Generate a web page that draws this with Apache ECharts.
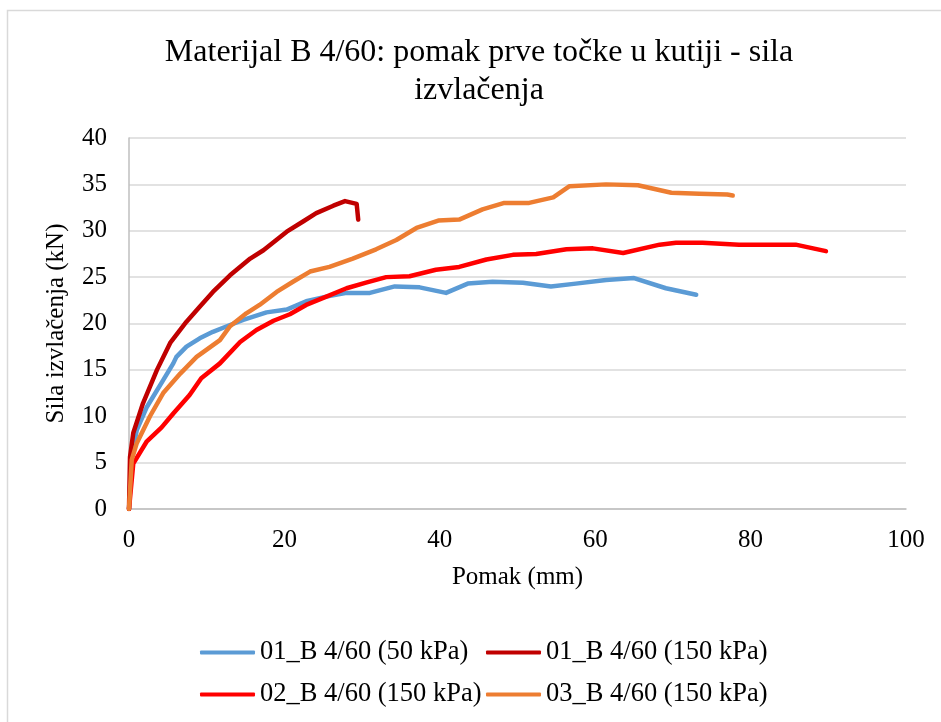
<!DOCTYPE html>
<html>
<head>
<meta charset="utf-8">
<script src="https://cdn.jsdelivr.net/npm/echarts@6/dist/echarts.min.js"></script>
<style>
  html, body { margin: 0; padding: 0; background: #fff; }
  #chart { width: 941px; height: 722px; }
</style>
</head>
<body>
<div id="chart"></div>
<script>
// Pull-out test, material B 4/60: displacement of the first point in the box vs. pull-out force
const seriesNames = [
  '01_B 4/60 (50 kPa)',
  '01_B 4/60 (150 kPa)',
  '02_B 4/60 (150 kPa)',
  '03_B 4/60 (150 kPa)'
];

// 01_B 4/60 (50 kPa)
const s1x = [0, 0.35, 1.0, 2.3, 4.4, 5.7, 6.1, 7.4, 9.1, 10.8, 12.6, 14.7, 17.7, 20.3, 22.8, 25.4, 28.0, 31.0, 34.2, 37.4, 40.8, 43.6, 46.8, 50.7, 54.3, 57.5, 61.4, 65.0, 69.1, 73.0];
const s1y = [0, 5.6, 8.5, 11.0, 13.9, 15.7, 16.4, 17.5, 18.4, 19.1, 19.7, 20.4, 21.2, 21.5, 22.4, 22.9, 23.3, 23.3, 24.0, 23.9, 23.3, 24.3, 24.5, 24.4, 24.0, 24.3, 24.7, 24.9, 23.8, 23.1];

// 01_B 4/60 (150 kPa)
const s2x = [0, 0.13, 0.55, 1.8, 3.6, 5.3, 7.4, 9.1, 10.8, 13.0, 15.6, 17.3, 20.3, 22.4, 24.1, 26.3, 27.8, 29.3, 29.5];
const s2y = [0, 5.6, 8.2, 11.4, 15.0, 17.9, 20.2, 21.8, 23.4, 25.2, 27.0, 27.9, 29.9, 31.0, 31.9, 32.7, 33.2, 32.9, 31.2];

// 02_B 4/60 (150 kPa)
const s3x = [0, 0.55, 2.3, 4.2, 5.7, 7.8, 9.3, 11.7, 14.3, 16.4, 18.6, 20.7, 22.8, 25.4, 28.0, 30.5, 33.1, 36.1, 39.5, 42.5, 46.0, 49.4, 52.4, 56.3, 59.7, 63.6, 68.3, 70.4, 73.8, 78.5, 85.8, 89.7];
const s3y = [0, 4.9, 7.3, 8.8, 10.3, 12.3, 14.1, 15.7, 18.0, 19.3, 20.3, 21.0, 22.0, 22.9, 23.8, 24.4, 25.0, 25.1, 25.8, 26.1, 26.9, 27.4, 27.5, 28.0, 28.1, 27.6, 28.5, 28.7, 28.7, 28.5, 28.5, 27.8];

// 03_B 4/60 (150 kPa)
const s4x = [0, 0.35, 1.0, 2.7, 4.4, 6.6, 8.7, 11.7, 13.0, 15.1, 16.8, 19.0, 21.1, 23.3, 25.8, 28.8, 31.8, 34.4, 37.0, 39.8, 42.5, 45.5, 48.3, 51.5, 54.6, 56.7, 61.4, 65.5, 69.8, 73.4, 77.0, 77.7];
const s4y = [0, 5.3, 7.1, 10.0, 12.5, 14.6, 16.4, 18.2, 19.7, 21.1, 22.0, 23.4, 24.5, 25.6, 26.1, 27.0, 28.0, 29.0, 30.3, 31.1, 31.2, 32.3, 33.0, 33.0, 33.6, 34.8, 35.0, 34.9, 34.1, 34.0, 33.9, 33.8];

const xs = [s1x, s2x, s3x, s4x];
const ys = [s1y, s2y, s3y, s4y];
const colors = ['#5B9BD5', '#C00000', '#FF0000', '#ED7D31'];

const FONT = '"Liberation Serif", "Times New Roman", serif';

function pairs(x, y) {
  return x.map((v, i) => [v, y[i]]);
}

const series = seriesNames.map((name, i) => ({
  name: name,
  type: 'line',
  data: pairs(xs[i], ys[i]),
  showSymbol: false,
  symbol: 'none',
  smooth: false,
  lineStyle: { color: colors[i], width: 4.5, cap: 'round', join: 'round' },
  itemStyle: { color: colors[i] },
  z: 2 + i
}));

// Legend laid out as a 2x2 block, one legend per entry
const legendPos = [
  { left: 195, top: 634 },
  { left: 481, top: 634 },
  { left: 195, top: 676 },
  { left: 481, top: 676 }
];
const legends = seriesNames.map((name, i) => ({
  data: [name],
  left: legendPos[i].left,
  top: legendPos[i].top,
  orient: 'horizontal',
  icon: 'roundRect',
  itemWidth: 55,
  itemHeight: 4,
  itemGap: 0,
  selectedMode: false,
  textStyle: { fontFamily: FONT, fontSize: 26.5, color: '#000' }
}));

const chart = echarts.init(document.getElementById('chart'), null, { renderer: 'canvas' });
chart.setOption({
  animation: false,
  backgroundColor: '#fff',
  title: {
    text: 'Materijal B 4/60: pomak prve točke u kutiji - sila\nizvlačenja',
    left: 474,
    top: 29,
    textAlign: 'center',
    textStyle: { fontFamily: FONT, fontSize: 32, fontWeight: 'normal', color: '#000', lineHeight: 38 }
  },
  graphic: [{
    type: 'rect',
    shape: { x: 7.5, y: 10.5, width: 960, height: 760 },
    style: { fill: 'none', stroke: '#d9d9d9', lineWidth: 1.5 },
    silent: true,
    z: -10
  }],
  legend: legends,
  grid: { left: 129, right: 35, top: 138, bottom: 213, containLabel: false },
  xAxis: {
    type: 'value',
    min: 0, max: 100, interval: 20,
    name: 'Pomak (mm)',
    nameLocation: 'middle',
    nameGap: 56,
    nameTextStyle: { fontFamily: FONT, fontSize: 25, color: '#000' },
    axisLine: { show: true, lineStyle: { color: '#bfbfbf', width: 1.5 } },
    axisTick: { show: false },
    axisLabel: { fontFamily: FONT, fontSize: 25, color: '#000', margin: 19 },
    splitLine: { show: false }
  },
  yAxis: {
    type: 'value',
    min: 0, max: 40, interval: 5,
    name: 'Sila izvlačenja (kN)',
    nameLocation: 'middle',
    nameGap: 60,
    nameTextStyle: { fontFamily: FONT, fontSize: 25, color: '#000' },
    axisLine: { show: true, lineStyle: { color: '#bfbfbf', width: 1.5 } },
    axisTick: { show: false },
    axisLabel: { fontFamily: FONT, fontSize: 25, color: '#000', margin: 22 },
    splitLine: { show: true, lineStyle: { color: '#d9d9d9', width: 1.5 } }
  },
  series: series
});
</script>
</body>
</html>
